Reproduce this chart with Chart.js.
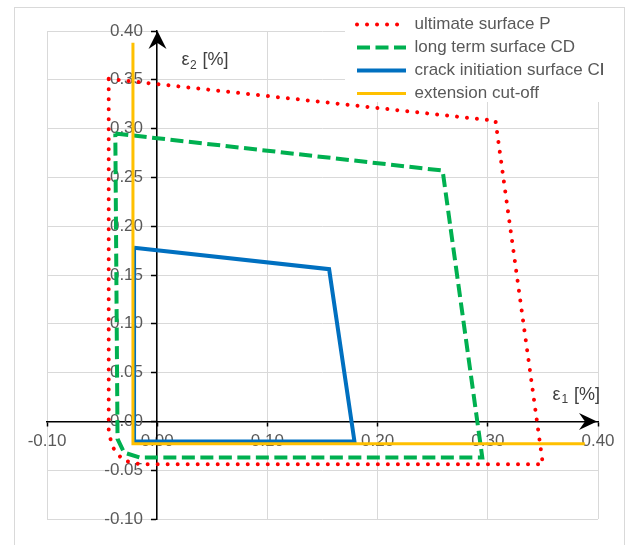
<!DOCTYPE html>
<html>
<head>
<meta charset="utf-8">
<script src="https://cdn.jsdelivr.net/npm/chart.js@4.4.1/dist/chart.umd.min.js"></script>
<style>
  html, body { margin: 0; padding: 0; background: #fff; }
  #wrap { width: 625px; height: 545px; }
</style>
</head>
<body>
<div id="wrap"><canvas id="surfaceChart" width="625" height="545"></canvas></div>
<script>
// ============ data (eps1 / eps2 in %) ============
const seriesNames = [
  "ultimate surface P",
  "long term surface CD",
  "crack initiation surface CI",
  "extension cut-off",
];

const ultimateX = [-0.044, 0.307, 0.350, -0.015, -0.031, -0.040, -0.044, -0.044];
const ultimateY = [0.351, 0.308, -0.044, -0.044, -0.040, -0.027, -0.012, 0.351];

const longTermX = [-0.038, 0.259, 0.295, -0.016, -0.030, -0.036, -0.038];
const longTermY = [0.295, 0.257, -0.037, -0.037, -0.032, -0.018, 0.295];

const crackX = [-0.021, 0.156, 0.179, -0.0205, -0.021];
const crackY = [0.178, 0.156, -0.0205, -0.0205, 0.178];

const cutoffX = [-0.022, -0.022, 0.388];
const cutoffY = [0.388, -0.023, -0.023];

const xTicks = { min: -0.1, max: 0.4, step: 0.1 };
const yTicks = { min: -0.1, max: 0.4, step: 0.05 };

function pts(xs, ys) {
  return xs.map((x, i) => ({ x: x, y: ys[i] }));
}

const TICK_COLOR = "#595959";
const GRID_COLOR = "#d9d9d9";

Chart.defaults.font.family = "Arial, 'Liberation Sans', sans-serif";
Chart.defaults.color = TICK_COLOR;

// ============ extra drawing: frame, legend box, arrows, axis titles ============
const decorations = {
  id: "decorations",
  beforeDraw(chart) {
    const ctx = chart.ctx;
    ctx.save();
    ctx.fillStyle = "#fff";
    ctx.fillRect(0, 0, chart.width, chart.height);
    ctx.strokeStyle = GRID_COLOR;
    ctx.lineWidth = 1;
    ctx.strokeRect(14.5, 7.5, 610, 560);
    ctx.restore();
  },
  afterLayout(chart) {
    // legend sits over the top right of the plot, like the Excel one
    const lg = chart.legend;
    lg.left = 351;
    lg.top = 10;
    lg.right = 625;
    lg.bottom = 125;
    lg.width = lg.right - lg.left;
    lg.height = lg.bottom - lg.top;
  },
  afterDraw(chart) {
    const ctx = chart.ctx;
    const xs = chart.scales.x;
    const ys = chart.scales.y;
    const x0 = Math.round(xs.getPixelForValue(0)) + 0.5;
    const y0 = Math.round(ys.getPixelForValue(0)) + 0.5;
    const area = chart.chartArea;

    // white legend background, then legend on top of it
    ctx.save();
    ctx.fillStyle = "#fff";
    ctx.fillRect(345, 12, 256, 90);
    ctx.restore();
    chart.legend.draw();

    ctx.save();
    ctx.fillStyle = "#000";
    // y arrow
    ctx.beginPath();
    ctx.moveTo(x0, area.top);
    ctx.lineTo(x0 + 9, area.top + 18);
    ctx.lineTo(x0, area.top + 12);
    ctx.lineTo(x0 - 9, area.top + 18);
    ctx.closePath();
    ctx.fill();
    // x arrow
    ctx.beginPath();
    ctx.moveTo(area.right - 1, y0);
    ctx.lineTo(area.right - 19, y0 - 8.5);
    ctx.lineTo(area.right - 13, y0);
    ctx.lineTo(area.right - 19, y0 + 8.5);
    ctx.closePath();
    ctx.fill();

    // axis titles
    ctx.fillStyle = "#404040";
    ctx.textAlign = "left";
    ctx.textBaseline = "alphabetic";
    ctx.font = "18px Arial, 'Liberation Sans', sans-serif";
    ctx.fillText("ε", x0 + 24, 65);
    ctx.fillText("[%]", x0 + 45, 65);
    ctx.fillText("ε", 552.5, 399.5);
    ctx.fillText("[%]", 574, 399.5);
    ctx.font = "12px Arial, 'Liberation Sans', sans-serif";
    ctx.fillText("2", x0 + 32.5, 68.5);
    ctx.fillText("1", 561.5, 403);
    ctx.restore();
  },
};

// ============ chart ============
window.addEventListener("load", () => {
  const ctx = document.getElementById("surfaceChart").getContext("2d");
  new Chart(ctx, {
    type: "scatter",
    data: {
      datasets: [
        {
          label: seriesNames[0],
          data: pts(ultimateX, ultimateY),
          borderColor: "#ff0000",
          borderWidth: 4,
          borderDash: [0.01, 10],
          borderCapStyle: "round",
          borderJoinStyle: "round",
          order: 4,
        },
        {
          label: seriesNames[1],
          data: pts(longTermX, longTermY),
          borderColor: "#00b050",
          borderWidth: 4,
          borderDash: [13, 5.5],
          borderCapStyle: "butt",
          order: 3,
        },
        {
          label: seriesNames[2],
          data: pts(crackX, crackY),
          borderColor: "#0070c0",
          borderWidth: 4,
          borderDash: [],
          borderCapStyle: "butt",
          order: 2,
        },
        {
          label: seriesNames[3],
          data: pts(cutoffX, cutoffY),
          borderColor: "#ffc000",
          borderWidth: 3,
          borderDash: [],
          borderCapStyle: "butt",
          order: 1,
        },
      ].map((ds) => Object.assign(ds, {
        showLine: true,
        fill: false,
        tension: 0,
        pointRadius: 0,
        pointHoverRadius: 0,
        backgroundColor: ds.borderColor,
      })),
    },
    options: {
      responsive: false,
      animation: false,
      devicePixelRatio: 1,
      layout: { padding: { left: 47, right: 27, top: 31, bottom: 26 } },
      plugins: {
        tooltip: { enabled: false },
        legend: {
          display: true,
          position: "chartArea",
          align: "start",
          labels: {
            color: TICK_COLOR,
            font: { size: 17 },
            padding: 6,
            usePointStyle: true,
            pointStyleWidth: 49,
            generateLabels: (chart) =>
              chart.data.datasets.map((ds, i) => ({
                text: ds.label,
                datasetIndex: i,
                fillStyle: ds.borderColor,
                strokeStyle: ds.borderColor,
                lineWidth: ds.borderWidth,
                lineDash: ds.borderDash,
                lineCap: ds.borderCapStyle,
                pointStyle: "line",
                fontColor: TICK_COLOR,
                hidden: false,
              })),
          },
        },
      },
      scales: {
        x: {
          type: "linear",
          min: xTicks.min,
          max: xTicks.max,
          position: { y: 0 },
          ticks: {
            stepSize: xTicks.step,
            callback: (v) => v.toFixed(2),
            font: { size: 17 },
            color: TICK_COLOR,
            padding: 6,
            maxRotation: 0,
            autoSkip: false,
          },
          grid: { color: GRID_COLOR, lineWidth: 1, tickLength: 4, tickColor: "#000", tickWidth: 1.5 },
          border: { color: "#000", width: 1.5 },
        },
        y: {
          type: "linear",
          min: yTicks.min,
          max: yTicks.max,
          position: { x: 0 },
          ticks: {
            stepSize: yTicks.step,
            // labels are right aligned on the axis line itself, the spaces keep them off it
            callback: (v) => v.toFixed(2) + "   ",
            font: { size: 17 },
            color: TICK_COLOR,
            padding: 11,
            autoSkip: false,
          },
          grid: { color: GRID_COLOR, lineWidth: 1, tickLength: 5, tickColor: "#000", tickWidth: 1.5 },
          border: { color: "#000", width: 1.5 },
        },
      },
    },
    plugins: [decorations],
  });
});
</script>
</body>
</html>
